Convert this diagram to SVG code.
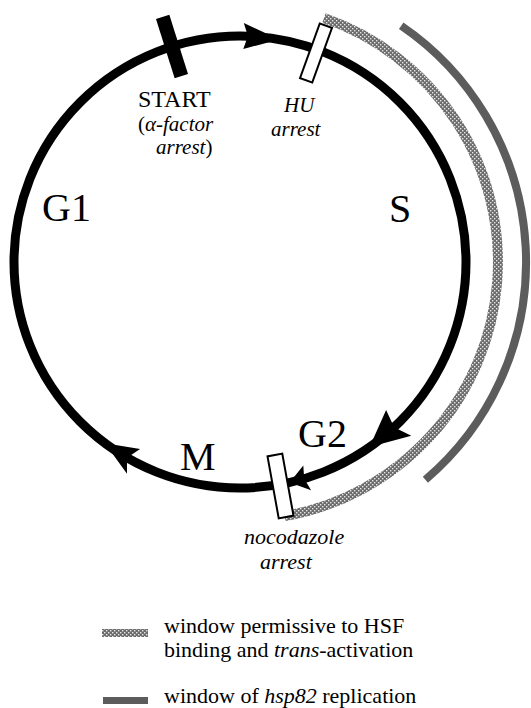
<svg xmlns="http://www.w3.org/2000/svg" width="531" height="708" viewBox="0 0 531 708">
<defs>
<pattern id="hatch" width="4" height="4" patternUnits="userSpaceOnUse">
<rect width="4" height="4" fill="#6c6c6c"/>
<rect x="0" y="0" width="1.4" height="1.4" fill="#e6e6e6"/>
<rect x="2" y="2" width="1.4" height="1.4" fill="#e6e6e6"/>
</pattern>
<style>
.cyc{fill:none;stroke:#000;stroke-width:9}
.ah{fill:#000}
.open{fill:#fff;stroke:#000;stroke-width:2}
.t{font-family:"Liberation Serif","Times New Roman",serif;fill:#000}
.ph{font-size:40px}
.it{font-style:italic}
</style>
</defs>
<rect width="531" height="708" fill="#fff"/>
<g id="windows">
<path id="hsf-window" d="M324,18.1 A258,258 0 0 1 284.8,516.1" fill="none" stroke="url(#hatch)" stroke-width="10"/>
<path id="replication-window" d="M401.2,25.7 A286,286 0 0 1 425.4,479.8" fill="none" stroke="#5c5c5c" stroke-width="8"/>
</g>
<g id="connectors">
<circle class="cyc" cx="240" cy="262" r="226"/>
<polygon class="ah" points="279.2,39.4 243.8,23 247.9,36.1 243.3,49"/>
<polygon class="ah" points="369.6,447.1 411.3,435.7 394.1,427.3 386.1,410.1"/>
<polygon class="ah" points="289.7,482.5 311.1,490.2 304.2,478.7 303.3,465.4"/>
<polygon class="ah" points="104.9,443.2 127,473.7 127,457.7 140.1,449"/>
</g>
<g id="start">
<rect x="-7" y="-31" width="14" height="62" fill="#000" transform="translate(172,46.5) rotate(-17.5)"/>
<text class="t" x="138" y="107" font-size="24">START</text>
<text class="t" x="138" y="131" font-size="21">(<tspan class="it">α-factor</tspan></text>
<text class="t" x="156" y="154" font-size="21"><tspan class="it">arrest</tspan>)</text>
</g>
<g id="hu">
<rect class="open" x="-6.5" y="-29" width="13" height="58" transform="translate(316,53) rotate(19.9)"/>
<text class="t it" x="284" y="112" font-size="21">HU</text>
<text class="t it" x="271" y="136" font-size="21">arrest</text>
</g>
<g id="nocodazole">
<rect class="open" x="-7.5" y="-31.5" width="15" height="63" transform="translate(280.5,486) rotate(-10.25)"/>
<text class="t it" x="244" y="544" font-size="22">nocodazole</text>
<text class="t it" x="260" y="569" font-size="22">arrest</text>
</g>
<g id="phases">
<text class="t ph" x="42" y="221">G1</text>
<text class="t ph" x="389" y="222">S</text>
<text class="t ph" x="298" y="447">G2</text>
<text class="t ph" x="180" y="470">M</text>
</g>
<g id="legend">
<rect x="102" y="629" width="46" height="8" fill="url(#hatch)"/>
<text class="t" x="164" y="633" font-size="22">window permissive to HSF</text>
<text class="t" x="164" y="657" font-size="22">binding and <tspan class="it">trans</tspan>-activation</text>
<rect x="103" y="697" width="45" height="7" fill="#5c5c5c"/>
<text class="t" x="164" y="703" font-size="22">window of <tspan class="it">hsp82</tspan> replication</text>
</g>
</svg>
